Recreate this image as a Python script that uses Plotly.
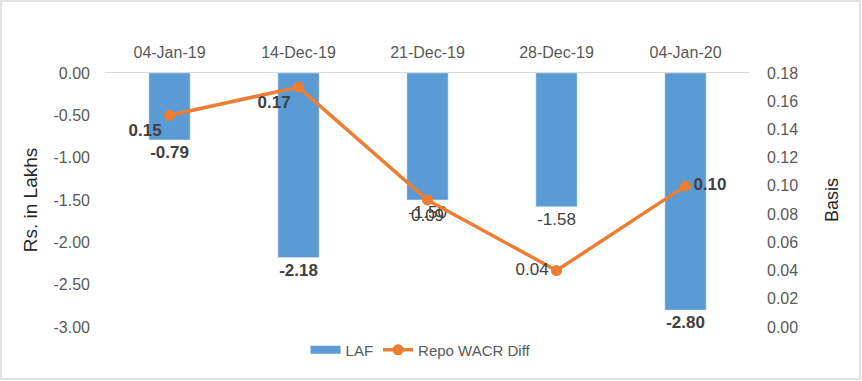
import plotly.graph_objects as go

categories = ["04-Jan-19", "14-Dec-19", "21-Dec-19", "28-Dec-19", "04-Jan-20"]
laf = [-0.79, -2.18, -1.50, -1.58, -2.80]
repo_wacr_diff = [0.15, 0.17, 0.09, 0.04, 0.10]
left_ticks = [0.0, -0.5, -1.0, -1.5, -2.0, -2.5, -3.0]
right_ticks = [0.0, 0.02, 0.04, 0.06, 0.08, 0.10, 0.12, 0.14, 0.16, 0.18]

# styling (not data)
laf_bold = [True, True, False, False, True]
repo_bold = [True, True, False, False, True]
repo_text_pos = ["bottom left", "bottom left", "bottom center", "middle left", "middle right"]

BLUE = "#5B9BD5"
ORANGE = "#ED7D31"
FONT = "Liberation Sans"

def fmt(v, b):
    s = f"{v:.2f}"
    return f"<b>{s}</b>" if b else s

fig = go.Figure()
fig.add_trace(go.Bar(
    x=categories, y=laf, name="LAF", marker_color=BLUE, width=0.32,
    text=[fmt(v, b) for v, b in zip(laf, laf_bold)],
    textposition="outside", constraintext="none", cliponaxis=False,
    textfont=dict(family=FONT, size=17, color="#404040"),
    yaxis="y", showlegend=False,
))
# legend-only entry to mimic the wide bar swatch
fig.add_trace(go.Scatter(
    x=[None], y=[None], name="LAF", mode="lines",
    line=dict(color=BLUE, width=8), yaxis="y", legendrank=1,
))
fig.add_trace(go.Scatter(
    x=categories, y=repo_wacr_diff, name="Repo WACR Diff",
    mode="lines+markers+text",
    line=dict(color=ORANGE, width=3.5),
    marker=dict(color=ORANGE, size=11),
    text=[fmt(v, b) for v, b in zip(repo_wacr_diff, repo_bold)],
    textposition=repo_text_pos, cliponaxis=False,
    textfont=dict(family=FONT, size=17, color="#404040"),
    yaxis="y2", legendrank=2,
))

W, H = 862, 381
L, R, T, B = 105, 112, 73, 54
pw, ph = W - L - R, H - T - B

fig.update_layout(
    width=W, height=H,
    margin=dict(l=L, r=R, t=T, b=B, autoexpand=False),
    paper_bgcolor="white", plot_bgcolor="white",
    font=dict(family=FONT, color="#595959", size=15),
    showlegend=True,
    legend=dict(orientation="h", x=0.49, xanchor="center",
                y=(H - B - 350) / ph, yanchor="middle",
                font=dict(size=15, color="#595959"), bgcolor="rgba(0,0,0,0)"),
    xaxis=dict(side="top", showgrid=False, showline=True, linecolor="#D9D9D9",
               linewidth=1, ticks="", automargin=False, ticklabelstandoff=8,
               tickfont=dict(size=16, color="#595959")),
    yaxis=dict(range=[-3, 0], tickvals=left_ticks,
               ticktext=[f"{v:.2f}" for v in left_ticks], showgrid=False,
               zeroline=False, showline=False, ticks="", automargin=False,
               ticklabelstandoff=14,
               title=dict(text="Rs. in Lakhs", font=dict(size=19, color="#262626"), standoff=10),
               tickfont=dict(size=16, color="#595959")),
    yaxis2=dict(range=[0, 0.18], tickvals=right_ticks,
                ticktext=[f"{v:.2f}" for v in right_ticks], overlaying="y",
                side="right", showgrid=False, zeroline=False, showline=False, ticks="",
                automargin=False, ticklabelstandoff=16,
                title=dict(text="Basis", font=dict(size=18, color="#262626"), standoff=28),
                tickfont=dict(size=16, color="#595959")),
    shapes=[dict(type="rect", xref="paper", yref="paper",
                 x0=(1 - L) / pw, x1=(W - 2 - L) / pw,
                 y0=(H - B - (H - 2)) / ph, y1=(H - B - 1) / ph,
                 line=dict(color="#D9D9D9", width=1.5), fillcolor="rgba(0,0,0,0)",
                 layer="below")],
)

fig.write_html("out.html", config={"displayModeBar": False},
               post_script="document.body.style.margin='0';")
